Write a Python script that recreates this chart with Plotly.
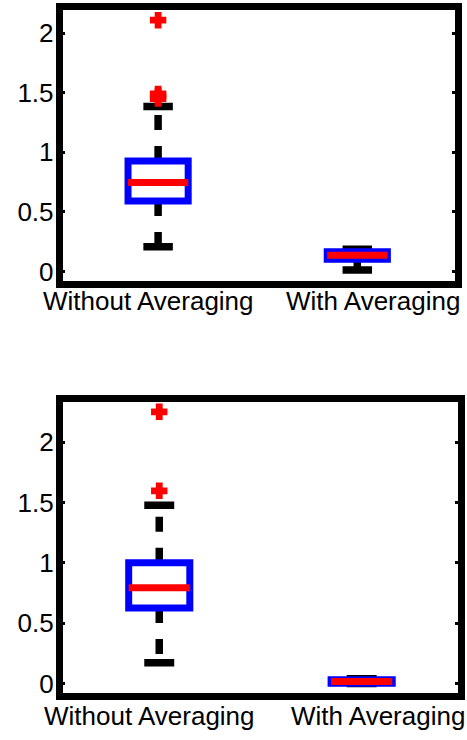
import plotly.graph_objects as go

# Group names and label placement along the category axis
groups = ["Without Averaging", "With Averaging"]
label_pos = [0.95, 2.08]

# Panel 1 box statistics
p1_q1 = [0.59, 0.1025]
p1_med = [0.747, 0.136]
p1_q3 = [0.9275, 0.165]
p1_lo = [0.208, 0.011]
p1_hi = [1.384, 0.186]
p1_out = [[2.108, 1.49, 1.47, 1.45], []]

# Panel 2 box statistics
p2_q1 = [0.626, 0.003]
p2_med = [0.794, 0.017]
p2_q3 = [1.0, 0.031]
p2_lo = [0.173, 0.0]
p2_hi = [1.476, 0.04]
p2_out = [[2.25, 1.596], []]

y_ticks = [0, 0.5, 1, 1.5, 2]

BOX_HALF = 0.151
CAP_HALF = 0.074
BLUE = "#0000ff"
RED = "#ff0000"
FONT = "Liberation Sans, Arial, sans-serif"
FS = 26
H = 740


def add_panel(fig, q1, med, q3, lo, hi, outs, xa, ya, label_y):
    kw = dict(xaxis=xa, yaxis=ya, showlegend=False, hoverinfo="skip")
    for i in range(len(groups)):
        c = i + 1
        # dashed whiskers, drawn outward from the box edges
        fig.add_trace(go.Scatter(x=[c, c, None, c, c], y=[q3[i], hi[i], None, q1[i], lo[i]],
                                 mode="lines", line=dict(color="black", width=7.5, dash="15px,16px"), **kw))
        # whisker caps
        fig.add_trace(go.Scatter(x=[c - CAP_HALF, c + CAP_HALF, None, c - CAP_HALF, c + CAP_HALF],
                                 y=[hi[i], hi[i], None, lo[i], lo[i]],
                                 mode="lines", line=dict(color="black", width=7.5), **kw))
        # box outline
        fig.add_trace(go.Scatter(x=[c + BOX_HALF, c - BOX_HALF, c - BOX_HALF, c + BOX_HALF, c + BOX_HALF, c - BOX_HALF],
                                 y=[q3[i], q3[i], q1[i], q1[i], q3[i], q3[i]],
                                 mode="lines", line=dict(color=BLUE, width=7), **kw))
        # median
        fig.add_trace(go.Scatter(x=[c - BOX_HALF, c + BOX_HALF], y=[med[i], med[i]],
                                 mode="lines", line=dict(color=RED, width=7), **kw))
        # outliers
        if outs[i]:
            fig.add_trace(go.Scatter(x=[c] * len(outs[i]), y=outs[i], mode="markers",
                                     marker=dict(symbol="cross", size=12, color=RED,
                                                 line=dict(color=RED, width=2)), **kw))
    for name, xp in zip(groups, label_pos):
        fig.add_annotation(x=xp, xref=xa, y=(H - label_y) / H, yref="paper", text=name, showarrow=False,
                           font=dict(family=FONT, size=FS, color="black"),
                           xanchor="center", yanchor="middle")


fig = go.Figure()
add_panel(fig, p1_q1, p1_med, p1_q3, p1_lo, p1_hi, p1_out, "x", "y", 303)
add_panel(fig, p2_q1, p2_med, p2_q3, p2_lo, p2_hi, p2_out, "x2", "y2", 721)

xcommon = dict(showline=True, linewidth=6.5, linecolor="black", mirror=True,
               showgrid=False, zeroline=False, showticklabels=False, ticks="")
ycommon = dict(showline=True, linewidth=6.5, linecolor="black", mirror="allticks",
               showgrid=False, zeroline=False, ticks="inside", ticklen=3, tickwidth=2.5,
               tickcolor="black", tickvals=y_ticks, ticklabelstandoff=-3,
               tickfont=dict(family=FONT, size=FS, color="black"))

fig.update_layout(
    width=467, height=H,
    margin=dict(l=0, r=0, t=0, b=0),
    paper_bgcolor="white", plot_bgcolor="white",
    xaxis=dict(domain=[62.5 / 467, 454.5 / 467], range=[0.52, 2.488], anchor="y", **xcommon),
    yaxis=dict(domain=[(H - 283) / H, (H - 10.5) / H], range=[-0.081, 2.19], anchor="x", **ycommon),
    xaxis2=dict(domain=[62.7 / 467, 458 / 467], range=[0.523, 2.476], anchor="y2", **xcommon),
    yaxis2=dict(domain=[(H - 698) / H, (H - 405) / H], range=[-0.08, 2.329], anchor="x2", **ycommon),
)

fig.write_html("out.html")
